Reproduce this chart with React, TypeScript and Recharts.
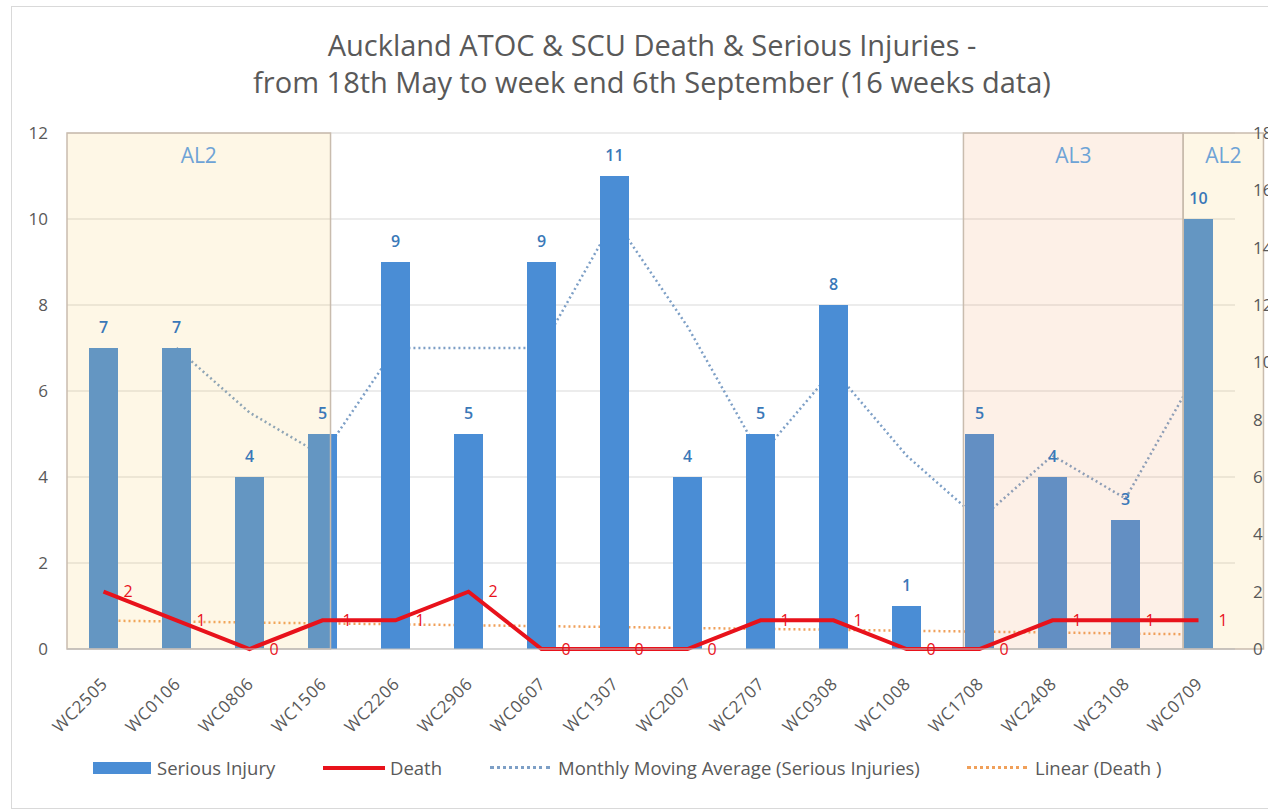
import React from "react";
import {
  Bar,
  CartesianGrid,
  ComposedChart,
  LabelList,
  Legend,
  Line,
  ReferenceArea,
  ReferenceLine,
  XAxis,
  YAxis
} from "recharts";

const weeks = [
  "WC2505", "WC0106", "WC0806", "WC1506", "WC2206", "WC2906", "WC0607", "WC1307",
  "WC2007", "WC2707", "WC0308", "WC1008", "WC1708", "WC2408", "WC3108", "WC0709"
];
const seriousInjury = [7, 7, 4, 5, 9, 5, 9, 11, 4, 5, 8, 1, 5, 4, 3, 10];
const deaths = [2, 1, 0, 1, 1, 2, 0, 0, 0, 1, 1, 0, 0, 1, 1, 1];
// two-week moving average of serious injuries
const movingAverage = [null, 7, 5.5, 4.5, 7, 7, 7, 10, 7.5, 4.5, 6.5, 4.5, 3, 4.5, 3.5, 6.5];
// linear trend of deaths at the first and last week
const deathTrend = [0.99, 0.51];

// alert level periods, in week-index units
const alertLevels = ["AL2", "AL3", "AL2"];
const alertStart = [-0.5, 11.78, 14.79];
const alertEnd = [3.11, 14.79, 15.89];

const rows = weeks.map((week, i) => ({
  week,
  idx: i,
  injury: seriousInjury[i],
  death: deaths[i],
  avg: movingAverage[i]
}));

const FONT = "'Open Sans', sans-serif";
const TEXT = "#595959";
const BLUE = "#4a8dd5";
const RED = "#e8121b";
const AVG = "#7d9fc6";
const TREND = "#f0a05a";
const levelFill: Record<string, string> = { AL2: "#f8ca58", AL3: "#f29b5f" };

function WeekTick({ x, y, payload }: any) {
  return (
    <g transform={`translate(${x + 5},${y + 34})`}>
      <text
        transform="rotate(-45)"
        textAnchor="end"
        fill={TEXT}
        fontSize={17}
        letterSpacing={0.6}
        fontFamily={FONT}
      >
        {payload.value}
      </text>
    </g>
  );
}

function LegendRow() {
  const label = { position: "absolute" as const, top: 2, fontSize: 18.5, color: TEXT, whiteSpace: "nowrap" as const };
  const dots = (color: string) => ({
    position: "absolute" as const,
    top: 13,
    width: 60,
    height: 0,
    borderTop: `3px dotted ${color}`
  });
  return (
    <div style={{ position: "relative", height: 30, fontFamily: FONT }}>
      <span style={{ position: "absolute", left: 93, top: 9, width: 58, height: 12, background: BLUE }} />
      <span style={{ ...label, left: 157 }}>Serious Injury</span>
      <span style={{ position: "absolute", left: 323, top: 13, width: 62, height: 4, background: RED }} />
      <span style={{ ...label, left: 390 }}>Death</span>
      <span style={{ ...dots(AVG), left: 490 }} />
      <span style={{ ...label, left: 558 }}>Monthly Moving Average (Serious Injuries)</span>
      <span style={{ ...dots(TREND), left: 967 }} />
      <span style={{ ...label, left: 1035 }}>Linear (Death )</span>
    </div>
  );
}

export default function App() {
  return (
    <div
      style={{
        position: "absolute",
        left: 0,
        top: 0,
        width: 1268,
        height: 812,
        overflow: "hidden",
        background: "#fff",
        fontFamily: FONT
      }}
    >
      <div
        style={{
          position: "absolute",
          left: 11,
          top: 6,
          width: 1300,
          height: 801,
          border: "1px solid #d9d9d9"
        }}
      />
      <div
        style={{
          position: "absolute",
          left: 0,
          top: 26,
          width: 1304,
          textAlign: "center",
          color: TEXT,
          fontSize: 29,
          lineHeight: "37px"
        }}
      >
        <div>Auckland ATOC &amp; SCU Death &amp; Serious Injuries -</div>
        <div>from 18th May to week end 6th September (16 weeks data)</div>
      </div>
      <div style={{ position: "absolute", left: 0, top: 0 }}>
        <ComposedChart
          width={1300}
          height={812}
          data={rows}
          margin={{ top: 133, right: 25, bottom: 29, left: 27 }}
        >
          <CartesianGrid yAxisId="left" vertical={false} stroke="#d9d9d9" />
          <XAxis
            dataKey="week"
            height={104}
            interval={0}
            tickLine={false}
            tickSize={0}
            axisLine={{ stroke: "#bfbfbf" }}
            tick={<WeekTick />}
          />
          <XAxis
            xAxisId="pos"
            dataKey="idx"
            type="number"
            domain={[-0.5, 15.5]}
            allowDataOverflow
            hide
          />
          <YAxis
            yAxisId="left"
            domain={[0, 12]}
            ticks={[0, 2, 4, 6, 8, 10, 12]}
            axisLine={false}
            tickLine={false}
            width={40}
            tickMargin={13}
            tick={{ fill: TEXT, fontSize: 17, fontFamily: FONT }}
          />
          <YAxis
            yAxisId="right"
            orientation="right"
            domain={[0, 18]}
            ticks={[0, 2, 4, 6, 8, 10, 12, 14, 16, 18]}
            axisLine={false}
            tickLine={false}
            width={40}
            tickMargin={12}
            tick={{ fill: TEXT, fontSize: 17, fontFamily: FONT }}
          />
          <ReferenceLine
            xAxisId="pos"
            yAxisId="right"
            segment={[
              { x: 0, y: deathTrend[0] },
              { x: 15, y: deathTrend[1] }
            ]}
            stroke={TREND}
            strokeWidth={2.5}
            strokeDasharray="2 3"
            zIndex={250}
          />
          <Line
            yAxisId="left"
            dataKey="avg"
            type="linear"
            stroke={AVG}
            strokeWidth={2.5}
            strokeDasharray="2 3"
            dot={false}
            activeDot={false}
            isAnimationActive={false}
            zIndex={250}
          />
          <Bar yAxisId="left" dataKey="injury" fill={BLUE} barSize={29} isAnimationActive={false}>
            <LabelList
              dataKey="injury"
              position="top"
              offset={15}
              fill="#3a78b8"
              fontSize={16}
              fontWeight={600}
              fontFamily={FONT}
            />
          </Bar>
          {alertLevels.map((level, i) => (
            <ReferenceArea
              key={i}
              xAxisId="pos"
              yAxisId="left"
              x1={alertStart[i]}
              x2={alertEnd[i]}
              ifOverflow="visible"
              fill={levelFill[level]}
              fillOpacity={0.15}
              stroke="#c9bcae"
              strokeWidth={1.5}
              zIndex={350}
              label={{
                value: level,
                position: "insideTop",
                offset: 15,
                fill: "#6ea3d6",
                fontSize: 21,
                fontFamily: FONT
              }}
            />
          ))}
          <Line
            yAxisId="right"
            dataKey="death"
            type="linear"
            stroke={RED}
            strokeWidth={4}
            dot={false}
            activeDot={false}
            isAnimationActive={false}
            zIndex={400}
          >
            <LabelList dataKey="death" position="right" offset={20} fill={RED} fontSize={16} fontFamily={FONT} />
          </Line>
          <Legend
            verticalAlign="bottom"
            content={<LegendRow />}
            wrapperStyle={{ left: 0, width: 1300, height: 30 }}
          />
        </ComposedChart>
      </div>
    </div>
  );
}
